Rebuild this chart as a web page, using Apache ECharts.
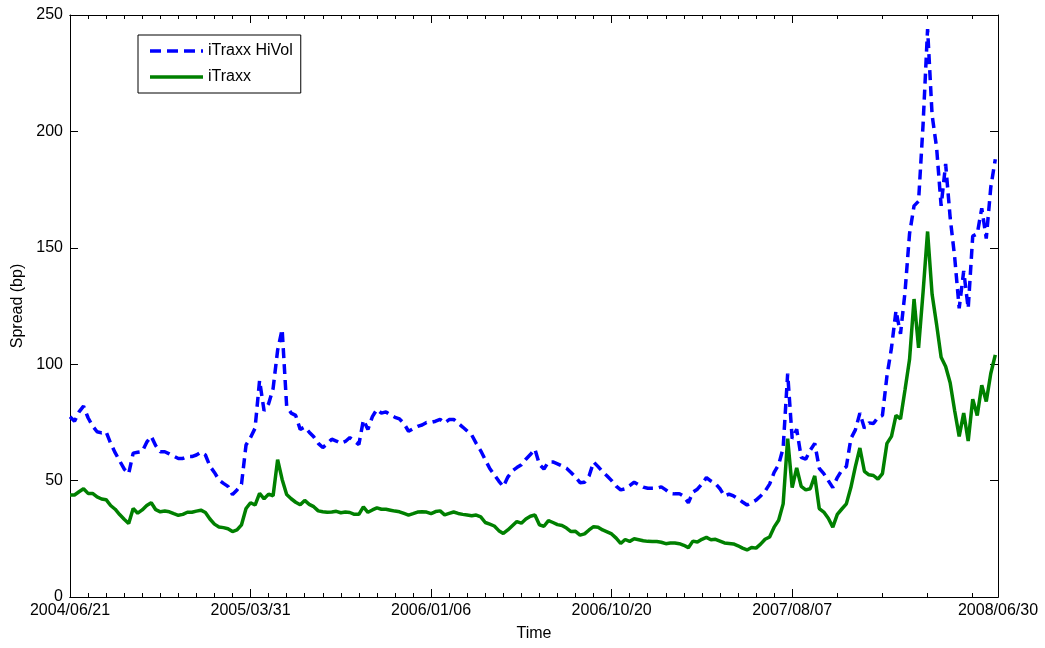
<!DOCTYPE html>
<html>
<head>
<meta charset="utf-8">
<script src="https://cdn.jsdelivr.net/npm/echarts@6/dist/echarts.min.js"></script>
<style>
html,body{margin:0;padding:0;background:#fff;}
#chart{width:1045px;height:648px;}
</style>
</head>
<body>
<div id="chart"></div>
<script>
// Business-day index sampled every STEP days; tick labels placed at index positions
const STEP = 5;
const LAST_INDEX = 1028;
const tickIndex = [0, 200, 400, 600, 800, 1028];
const tickLabels = ['2004/06/21', '2005/03/31', '2006/01/06', '2006/10/20', '2007/08/07', '2008/06/30'];
const seriesNames = ['iTraxx HiVol', 'iTraxx'];

const hiVol = [
77.4,75.5,79.5,82,77,73.5,71,70.5,71,66,62,58.5,55,53,61.8,62.2,62.5,66.5,69,65,
62.4,62.4,61.5,60.5,59.5,59.5,60.3,60.3,61,62.2,61,56.2,53.5,50.3,48.8,47.5,44,46,48.5,65.3,
68.5,72.5,93,80,83,89.6,106,115,82,79,78,72,73,70.8,68.8,66,64.2,65.8,67.8,67,
66,66.8,68.5,67,65.5,76,72,77.5,80.6,79,79.5,78.2,77.2,76.5,74.5,71.2,72.3,73.3,73.9,75,
75,75.5,76.3,74.8,76.2,76.3,74.6,73,71.3,69.6,66,62.8,59,55.2,52.5,49.8,47.4,51.5,54.2,55.6,
56.8,59.2,61.2,63.5,57,55,58,58,57.2,56.3,55.3,53.5,51.5,49.1,49.3,52,58,56,53.8,52,
50,47.6,46,46.5,47.8,49.3,48.2,47.2,46.7,46.7,46.7,47.3,46,44.5,44.3,44.4,43.2,40.5,45,46.3,
48.5,51.3,49.8,48.7,46.5,43.4,44.2,43.4,42.2,40.8,39.5,40.6,41.6,43.4,45.5,48.5,53.5,56.8,64,96,
68,72,60,59.2,63,66,55.3,53,50,47,51.3,54.5,56,68,71.8,79,72.5,74.8,74.5,77.2,
78,95,107,123,113,131,156,168,170,203,244,207,193,168,186,163,146,124,140,124,
155,156,167,154,176,188
];

const iTraxx = [
43.8,43.8,45.2,46.5,44.5,44.5,43,42.1,41.8,39.3,37.7,35.4,33.4,31.6,38,36,37.4,39.3,40.5,37.5,
36.6,36.9,36.6,35.8,35.1,35.5,36.4,36.4,36.9,37.3,36.3,33.5,31.3,30.1,29.8,29.3,28.1,28.8,31,38,
40.5,39.5,44.5,42.2,44.2,43.5,59,50.5,44,42.2,40.7,39.6,41.5,39.8,38.8,37,36.6,36.4,36.5,36.8,
36.2,36.5,36.3,35.5,35.5,38.7,36.4,37.4,38.3,37.7,37.7,37.3,36.9,36.6,35.9,35.2,35.8,36.5,36.6,36.5,
35.8,36.7,37,35.3,35.9,36.5,35.9,35.5,35.2,34.9,35.2,34.4,32,31.3,30.5,28.5,27.3,28.8,30.6,32.4,
31.7,33.5,34.7,35.2,31,30.4,32.8,32,31.1,30.7,29.6,28.1,28.2,26.6,27.1,28.8,30.2,30,28.8,28,
27.1,25.3,23,24.7,23.9,25,24.6,24.2,23.9,23.8,23.8,23.5,22.9,23.2,23.2,22.9,22.2,21.2,24,23.6,
24.8,25.6,24.6,24.8,24,23.2,23,22.8,22,21,20.2,21.3,21,22.7,24.8,25.8,30,33,40,68,
47,55.5,47.5,46,46.5,52,38,36.5,33.8,30,35.5,37.8,40,47,56,64,54,52.5,52.2,50.6,
53,66,69,78,76.5,89,102,128,107,131,157,130,117,103,99,92,80,69,79,67,
85,78,91,84,96,104
];

// minor tick positions (index units)
const minorTicks = [];
for (let v = 20; v < 800; v += 20) { if (v % 200 !== 0) minorTicks.push(v); }
minorTicks.push(850, 900, 950, 1000);

const toPairs = arr => arr.map((v, i) => [i * STEP, v]);

const BASE_FONT = "'Liberation Sans', Arial, sans-serif";

function xAxisBase(pos, ticks, len, showLabel) {
  return {
    type: 'value', position: pos, min: 0, max: LAST_INDEX,
    axisLine: { show: true, onZero: false, lineStyle: { color: '#000', width: 1 } },
    axisTick: { show: true, inside: true, length: len, customValues: ticks, lineStyle: { color: '#000', width: 1 } },
    axisLabel: showLabel ? {
      show: true, customValues: tickIndex, margin: 6,
      color: '#000', fontSize: 16, fontFamily: BASE_FONT,
      formatter: v => { const k = tickIndex.indexOf(v); return k >= 0 ? tickLabels[k] : ''; }
    } : { show: false },
    splitLine: { show: false }
  };
}

function yAxisBase(pos, showLabel) {
  return {
    type: 'value', position: pos, min: 0, max: 250, interval: 50,
    axisLine: { show: true, onZero: false, lineStyle: { color: '#000', width: 1 } },
    axisTick: { show: true, inside: true, length: 8, lineStyle: { color: '#000', width: 1 } },
    axisLabel: showLabel ? { show: true, margin: 7, color: '#000', fontSize: 16, fontFamily: BASE_FONT } : { show: false },
    splitLine: { show: false }
  };
}

const chart = echarts.init(document.getElementById('chart'), null, { renderer: 'canvas' });

const xMajorBottom = xAxisBase('bottom', tickIndex, 8, true);
xMajorBottom.name = 'Time';
xMajorBottom.nameLocation = 'middle';
xMajorBottom.nameGap = 29;
xMajorBottom.nameTextStyle = { color: '#000', fontSize: 16, fontFamily: BASE_FONT };

const yLeft = yAxisBase('left', true);
yLeft.name = 'Spread (bp)';
yLeft.nameLocation = 'middle';
yLeft.nameGap = 44;
yLeft.nameTextStyle = { color: '#000', fontSize: 16, fontFamily: BASE_FONT };

const dashIcon = 'path://M0 0h11v3.5h-11z M17 0h11v3.5h-11z M34 0h11v3.5h-11z M51 0h2v3.5h-2z';
const solidIcon = 'path://M0 0h53v3.5h-53z';

chart.setOption({
  animation: false,
  backgroundColor: '#fff',
  grid: { left: 70, right: 47, top: 15, bottom: 51, containLabel: false, outerBoundsMode: 'none' },
  legend: {
    show: true,
    orient: 'vertical',
    left: 138, top: 35,
    data: [
      { name: seriesNames[0], icon: dashIcon },
      { name: seriesNames[1], icon: solidIcon }
    ],
    backgroundColor: '#fff',
    borderColor: '#000', borderWidth: 1,
    padding: [7, 8, 7, 12],
    itemGap: 8,
    itemWidth: 53, itemHeight: 3.5,
    symbolKeepAspect: false,
    itemTextGap: 10,
    textStyle: { color: '#000', fontSize: 16, fontFamily: BASE_FONT, lineHeight: 18 },
    selectedMode: false
  },
  xAxis: [
    xMajorBottom,
    xAxisBase('bottom', minorTicks, 4, false),
    xAxisBase('top', tickIndex, 8, false),
    xAxisBase('top', minorTicks, 4, false)
  ],
  yAxis: [
    yLeft,
    yAxisBase('right', false)
  ],
  series: [
    {
      name: seriesNames[0], type: 'line', xAxisIndex: 0, yAxisIndex: 0,
      data: toPairs(hiVol), showSymbol: false, symbol: 'none', smooth: false,
      lineStyle: { color: '#0000ff', width: 3.5, type: [10, 6] },
      itemStyle: { color: '#0000ff' },
      z: 3
    },
    {
      name: seriesNames[1], type: 'line', xAxisIndex: 0, yAxisIndex: 0,
      data: toPairs(iTraxx), showSymbol: false, symbol: 'none', smooth: false,
      lineStyle: { color: '#008000', width: 3.5, type: 'solid' },
      itemStyle: { color: '#008000' },
      z: 2
    }
  ]
});
</script>
</body>
</html>
